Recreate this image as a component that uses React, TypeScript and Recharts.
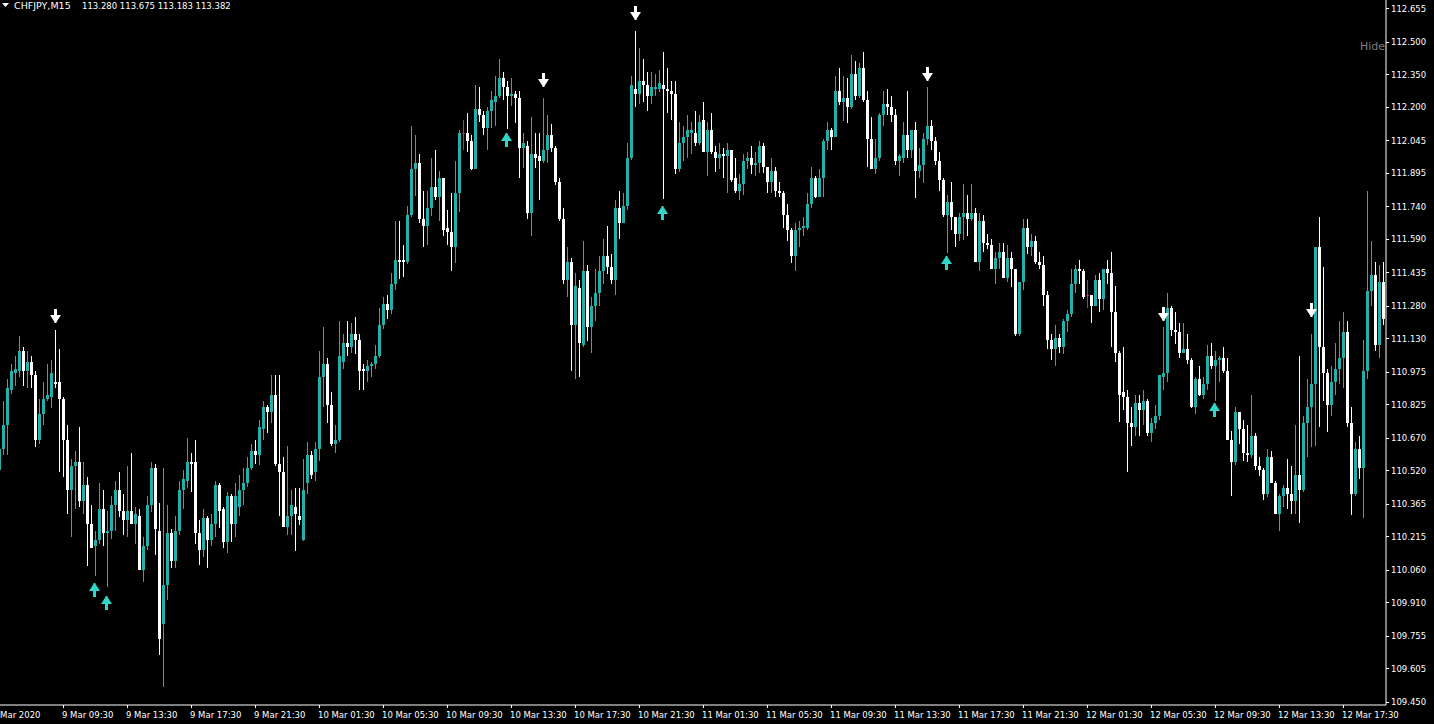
import { ComposedChart, Bar, Scatter, XAxis, YAxis } from "recharts";

// M15 candles, 9 Mar 05:45 -> 12 Mar 20:15
const openP = [
  110.52, 110.62, 110.73, 110.89, 110.97, 110.98, 111.07, 110.98, 111.02, 110.96,
  110.66, 110.78, 110.85, 110.86, 110.93, 110.93, 110.85, 110.66, 110.43, 110.54,
  110.56, 110.38, 110.45, 110.27, 110.17, 110.2, 110.34, 110.23, 110.24, 110.36,
  110.43, 110.33, 110.29, 110.33, 110.27, 110.31, 110.06, 110.17, 110.36, 110.53,
  110.24, 109.81, 109.99, 110.23, 110.1, 110.24, 110.43, 110.47, 110.56, 110.56,
  110.23, 110.15, 110.3, 110.2, 110.27, 110.45, 110.34, 110.19, 110.4, 110.27,
  110.35, 110.43, 110.46, 110.53, 110.61, 110.59, 110.71, 110.81, 110.79, 110.87,
  110.55, 110.51, 110.26, 110.31, 110.35, 110.31, 110.2, 110.46, 110.59, 110.51,
  110.62, 110.95, 111.01, 110.82, 110.64, 110.66, 111.02, 111.11, 111.09, 111.15,
  111.12, 110.99, 110.98, 111.0, 111.01, 111.05, 111.19, 111.29, 111.26, 111.38,
  111.49, 111.49, 111.48, 111.7, 111.91, 111.94, 111.68, 111.65, 111.73, 111.83,
  111.78, 111.87, 111.64, 111.62, 111.55, 111.8, 112.08, 112.08, 112.04, 111.91,
  112.19, 112.16, 112.1, 112.18, 112.22, 112.25, 112.33, 112.29, 112.25, 112.26,
  112.24, 112.01, 112.02, 111.71, 111.98, 111.97, 111.95, 112.0, 112.07, 112.01,
  111.85, 111.68, 111.4, 111.48, 111.19, 111.36, 111.1, 111.44, 111.18, 111.28,
  111.34, 111.44, 111.51, 111.46, 111.4, 111.73, 111.66, 111.74, 111.96, 112.28,
  112.26, 112.32, 112.3, 112.25, 112.28, 112.28, 112.3, 112.28, 112.27, 112.26,
  111.91, 112.03, 112.06, 112.08, 112.08, 112.03, 112.14, 111.99, 112.09, 111.99,
  111.96, 111.98, 111.97, 112.0, 111.87, 111.81, 111.84, 111.95, 111.96, 111.93,
  111.94, 112.02, 111.92, 111.85, 111.9, 111.81, 111.8, 111.7, 111.63, 111.51,
  111.63, 111.64, 111.64, 111.75, 111.87, 111.78, 111.87, 112.04, 112.09, 112.06,
  112.27, 112.22, 112.24, 112.2, 112.35, 112.25, 112.38, 112.23, 112.05, 111.91,
  111.96, 112.16, 112.21, 112.2, 112.16, 111.95, 111.96, 112.07, 112.0, 112.09,
  111.9, 111.93, 112.05, 112.11, 112.04, 111.95, 111.86, 111.7, 111.76, 111.69,
  111.61, 111.69, 111.71, 111.68, 111.71, 111.48, 111.67, 111.57, 111.56, 111.45,
  111.5, 111.53, 111.41, 111.5, 111.45, 111.15, 111.39, 111.64, 111.55, 111.58,
  111.48, 111.47, 111.33, 111.12, 111.08, 111.13, 111.09, 111.21, 111.24, 111.38,
  111.45, 111.44, 111.33, 111.33, 111.28, 111.4, 111.31, 111.45, 111.43, 111.25,
  111.06, 110.88, 110.86, 110.74, 110.72, 110.83, 110.8, 110.84, 110.69, 110.74,
  110.77, 110.95, 110.97, 111.27, 111.17, 111.16, 111.06, 111.08, 111.03, 110.81,
  110.94, 110.87, 110.92, 111.05, 111.0, 111.03, 111.04, 110.98, 110.66, 110.56,
  110.79, 110.71, 110.6, 110.59, 110.68, 110.54, 110.52, 110.41, 110.58, 110.46,
  110.32, 110.4, 110.44, 110.41, 110.38, 110.5, 110.43, 110.74, 110.81, 110.92,
  111.55, 111.09, 110.97, 110.82, 110.93, 110.99, 111.04, 111.16, 110.74, 110.41,
  110.62, 110.53, 110.98, 111.35, 111.42, 111.1, 111.39,
];
const highP = [
  110.66, 110.84, 110.94, 111.01, 111.05, 111.14, 111.09, 111.07, 111.05, 110.98,
  110.85, 110.93, 111.01, 111.03, 111.17, 111.08, 110.86, 110.73, 110.57, 110.61,
  110.72, 110.56, 110.49, 110.36, 110.24, 110.46, 110.43, 110.33, 110.4, 110.47,
  110.51, 110.41, 110.54, 110.6, 110.35, 110.34, 110.21, 110.4, 110.56, 110.55,
  110.37, 110.53, 110.36, 110.25, 110.31, 110.47, 110.52, 110.67, 110.6, 110.66,
  110.29, 110.34, 110.31, 110.32, 110.47, 110.46, 110.35, 110.42, 110.41, 110.46,
  110.5, 110.53, 110.58, 110.64, 110.66, 110.75, 110.84, 110.82, 110.96, 110.96,
  110.96, 110.58, 110.63, 110.43, 110.44, 110.44, 110.57, 110.65, 110.61, 110.65,
  111.07, 111.18, 111.04, 110.88, 110.73, 111.21, 111.15, 111.21, 111.2, 111.23,
  111.15, 111.01, 111.03, 111.02, 111.1, 111.27, 111.32, 111.33, 111.43, 111.67,
  111.67, 111.56, 111.74, 112.11, 112.07, 111.98, 111.81, 111.81, 111.96, 112.0,
  111.9, 111.87, 111.72, 111.8, 111.95, 112.09, 112.14, 112.17, 112.07, 112.3,
  112.29, 112.18, 112.2, 112.27, 112.34, 112.42, 112.36, 112.32, 112.33, 112.27,
  112.27, 112.08, 112.04, 112.15, 112.08, 112.08, 112.24, 112.16, 112.12, 112.02,
  111.87, 111.73, 111.55, 111.5, 111.43, 111.4, 111.58, 111.47, 111.32, 111.45,
  111.51, 111.59, 111.65, 111.52, 111.77, 111.81, 111.8, 112.03, 112.34, 112.55,
  112.47, 112.42, 112.36, 112.36, 112.35, 112.37, 112.45, 112.38, 112.32, 112.32,
  112.13, 112.11, 112.16, 112.13, 112.18, 112.16, 112.22, 112.13, 112.17, 112.02,
  112.03, 112.01, 112.03, 112.0, 111.96, 111.89, 111.98, 111.99, 112.02, 111.99,
  112.04, 112.03, 111.92, 111.96, 111.92, 111.85, 111.81, 111.75, 111.64, 111.66,
  111.67, 111.69, 111.8, 111.92, 111.88, 111.91, 112.05, 112.13, 112.1, 112.34,
  112.38, 112.34, 112.33, 112.44, 112.41, 112.4, 112.45, 112.27, 112.15, 112.05,
  112.17, 112.27, 112.28, 112.25, 112.19, 111.98, 112.13, 112.27, 112.09, 112.13,
  112.01, 112.08, 112.29, 112.14, 112.06, 111.99, 111.87, 111.79, 111.85, 111.69,
  111.71, 111.84, 111.79, 111.84, 111.73, 111.71, 111.7, 111.61, 111.59, 111.53,
  111.57, 111.57, 111.56, 111.53, 111.45, 111.39, 111.68, 111.68, 111.61, 111.6,
  111.53, 111.51, 111.35, 111.15, 111.19, 111.15, 111.22, 111.26, 111.45, 111.47,
  111.49, 111.45, 111.4, 111.33, 111.42, 111.43, 111.45, 111.49, 111.53, 111.37,
  111.07, 111.09, 110.89, 110.81, 110.87, 110.87, 110.89, 110.85, 110.76, 110.82,
  110.96, 111.18, 111.34, 111.28, 111.25, 111.2, 111.2, 111.15, 111.04, 110.95,
  111.0, 110.95, 111.1, 111.11, 111.07, 111.05, 111.09, 111.04, 110.7, 110.81,
  110.79, 110.75, 110.73, 110.87, 110.69, 110.58, 110.53, 110.62, 110.61, 110.47,
  110.41, 110.45, 110.57, 110.54, 110.73, 111.05, 110.77, 110.94, 111.15, 111.55,
  111.69, 111.46, 110.99, 111.0, 111.11, 111.21, 111.25, 111.21, 110.81, 110.65,
  110.68, 111.12, 111.81, 111.58, 111.48, 111.47, 111.48,
];
const lowP = [
  110.5, 110.59, 110.59, 110.87, 110.91, 110.95, 110.91, 110.9, 110.9, 110.63,
  110.64, 110.73, 110.84, 110.81, 110.9, 110.51, 110.49, 110.32, 110.21, 110.34,
  110.35, 110.32, 110.08, 110.16, 110.03, 110.18, 110.17, 109.98, 110.2, 110.24,
  110.3, 110.22, 110.21, 110.27, 110.18, 110.06, 110.0, 110.15, 110.33, 110.13,
  109.67, 109.52, 109.92, 110.07, 110.07, 110.22, 110.34, 110.44, 110.42, 110.18,
  110.08, 110.12, 110.07, 110.17, 110.21, 110.25, 110.16, 110.14, 110.19, 110.21,
  110.31, 110.36, 110.44, 110.52, 110.55, 110.54, 110.66, 110.69, 110.74, 110.54,
  110.31, 110.26, 110.22, 110.22, 110.15, 110.27, 110.19, 110.41, 110.48, 110.47,
  110.56, 110.81, 110.74, 110.63, 110.6, 110.65, 110.99, 111.05, 111.06, 111.06,
  110.89, 110.89, 110.93, 110.95, 110.99, 111.04, 111.17, 111.22, 111.24, 111.35,
  111.4, 111.41, 111.47, 111.69, 111.79, 111.66, 111.55, 111.56, 111.69, 111.77,
  111.67, 111.6, 111.56, 111.44, 111.48, 111.71, 112.0, 111.99, 111.91, 111.91,
  112.13, 112.07, 112.0, 112.1, 112.11, 112.24, 112.23, 112.1, 112.2, 112.12,
  111.87, 111.92, 111.68, 111.6, 111.92, 111.77, 111.94, 111.94, 111.99, 111.84,
  111.67, 111.38, 111.32, 110.98, 110.94, 110.95, 111.09, 111.12, 111.06, 111.21,
  111.28, 111.38, 111.43, 111.38, 111.33, 111.59, 111.66, 111.72, 111.95, 112.2,
  112.21, 112.22, 112.18, 112.21, 112.25, 112.27, 111.77, 112.17, 112.14, 111.89,
  111.9, 111.95, 111.96, 111.98, 112.02, 112.02, 111.99, 111.88, 111.98, 111.9,
  111.91, 111.87, 111.8, 111.85, 111.8, 111.77, 111.79, 111.91, 111.89, 111.88,
  111.89, 111.89, 111.8, 111.8, 111.78, 111.78, 111.64, 111.58, 111.48, 111.44,
  111.55, 111.6, 111.63, 111.73, 111.78, 111.78, 111.78, 112.0, 112.0, 112.06,
  112.21, 112.13, 112.12, 112.19, 112.23, 112.24, 112.22, 111.92, 111.91, 111.89,
  111.95, 112.11, 112.16, 112.13, 111.93, 111.88, 111.94, 111.96, 111.96, 111.78,
  111.87, 111.85, 112.02, 112.0, 111.93, 111.81, 111.69, 111.52, 111.63, 111.55,
  111.58, 111.58, 111.6, 111.67, 111.48, 111.44, 111.53, 111.54, 111.45, 111.38,
  111.45, 111.41, 111.39, 111.37, 111.14, 111.14, 111.35, 111.52, 111.51, 111.47,
  111.45, 111.28, 111.08, 111.03, 111.0, 111.06, 111.06, 111.16, 111.23, 111.34,
  111.38, 111.31, 111.27, 111.2, 111.28, 111.25, 111.26, 111.38, 111.09, 111.02,
  110.74, 110.8, 110.51, 110.63, 110.68, 110.68, 110.73, 110.68, 110.65, 110.71,
  110.75, 110.89, 110.93, 111.14, 111.1, 111.04, 111.06, 111.01, 110.81, 110.78,
  110.86, 110.85, 110.89, 110.99, 110.84, 110.93, 110.97, 110.66, 110.4, 110.54,
  110.64, 110.56, 110.56, 110.58, 110.52, 110.49, 110.38, 110.4, 110.46, 110.32,
  110.24, 110.35, 110.34, 110.32, 110.32, 110.28, 110.42, 110.58, 110.63, 110.63,
  110.72, 110.84, 110.7, 110.77, 110.87, 110.92, 110.9, 110.72, 110.31, 110.4,
  110.48, 110.3, 110.94, 111.28, 111.07, 111.04, 111.19,
];
const closeP = [
  110.62, 110.73, 110.9, 110.98, 110.99, 111.07, 110.98, 111.02, 110.96, 110.66,
  110.78, 110.85, 110.87, 110.97, 110.92, 110.85, 110.66, 110.43, 110.54, 110.56,
  110.38, 110.45, 110.27, 110.16, 110.2, 110.34, 110.23, 110.24, 110.36, 110.43,
  110.33, 110.29, 110.33, 110.27, 110.32, 110.06, 110.17, 110.36, 110.53, 110.25,
  109.74, 109.99, 110.23, 110.1, 110.24, 110.43, 110.48, 110.56, 110.55, 110.23,
  110.15, 110.3, 110.2, 110.27, 110.45, 110.33, 110.19, 110.4, 110.27, 110.4,
  110.43, 110.46, 110.53, 110.61, 110.59, 110.72, 110.81, 110.79, 110.87, 110.55,
  110.51, 110.26, 110.31, 110.36, 110.32, 110.29, 110.43, 110.59, 110.5, 110.62,
  110.95, 111.01, 110.82, 110.64, 110.66, 111.05, 111.11, 111.09, 111.15, 111.12,
  110.98, 110.98, 111.0, 111.01, 111.05, 111.19, 111.29, 111.26, 111.38, 111.49,
  111.48, 111.48, 111.7, 111.91, 111.94, 111.68, 111.65, 111.73, 111.83, 111.78,
  111.87, 111.63, 111.62, 111.55, 111.8, 112.08, 112.08, 112.04, 111.91, 112.19,
  112.16, 112.1, 112.18, 112.23, 112.25, 112.33, 112.29, 112.25, 112.26, 112.24,
  112.01, 112.03, 111.71, 111.98, 111.96, 111.95, 112.0, 112.07, 112.01, 111.85,
  111.68, 111.4, 111.48, 111.19, 111.37, 111.11, 111.44, 111.18, 111.28, 111.34,
  111.44, 111.51, 111.46, 111.4, 111.73, 111.66, 111.74, 111.96, 112.3, 112.26,
  112.32, 112.3, 112.25, 112.29, 112.29, 112.31, 112.28, 112.27, 112.26, 111.91,
  112.03, 112.06, 112.09, 112.09, 112.03, 112.13, 111.99, 112.09, 111.99, 111.96,
  111.98, 111.97, 112.0, 111.86, 111.81, 111.84, 111.95, 111.96, 111.93, 111.94,
  112.02, 111.92, 111.85, 111.9, 111.81, 111.8, 111.7, 111.63, 111.51, 111.63,
  111.64, 111.65, 111.75, 111.87, 111.78, 111.87, 112.04, 112.09, 112.06, 112.27,
  112.22, 112.24, 112.2, 112.35, 112.25, 112.38, 112.23, 112.05, 111.91, 111.96,
  112.16, 112.21, 112.2, 112.16, 111.95, 111.97, 112.07, 112.0, 112.09, 111.9,
  111.93, 112.05, 112.11, 112.04, 111.95, 111.86, 111.7, 111.76, 111.69, 111.61,
  111.69, 111.71, 111.68, 111.71, 111.48, 111.67, 111.57, 111.56, 111.45, 111.5,
  111.53, 111.41, 111.5, 111.45, 111.15, 111.39, 111.64, 111.55, 111.58, 111.48,
  111.47, 111.33, 111.12, 111.08, 111.13, 111.09, 111.21, 111.24, 111.38, 111.45,
  111.44, 111.32, 111.33, 111.28, 111.4, 111.31, 111.45, 111.43, 111.25, 111.06,
  110.87, 110.86, 110.74, 110.72, 110.83, 110.8, 110.84, 110.69, 110.74, 110.77,
  110.96, 110.97, 111.27, 111.17, 111.16, 111.06, 111.08, 111.03, 110.81, 110.94,
  110.87, 110.92, 111.05, 111.0, 111.03, 111.04, 110.98, 110.66, 110.56, 110.79,
  110.71, 110.6, 110.59, 110.68, 110.54, 110.52, 110.41, 110.58, 110.46, 110.32,
  110.4, 110.44, 110.41, 110.38, 110.5, 110.43, 110.74, 110.81, 110.92, 111.55,
  111.09, 110.97, 110.82, 110.93, 110.99, 111.04, 111.16, 110.74, 110.41, 110.62,
  110.53, 110.98, 111.35, 111.42, 111.1, 111.39, 111.22,
];

const timeTickIdx = [0, 16, 32, 48, 64, 80, 96, 112, 128, 144, 160, 176, 192, 208, 224, 240, 256, 272, 288, 304, 320, 336];
const timeLabels = [
  "9 Mar 2020", "9 Mar 09:30", "9 Mar 13:30", "9 Mar 17:30", "9 Mar 21:30",
  "10 Mar 01:30", "10 Mar 05:30", "10 Mar 09:30", "10 Mar 13:30", "10 Mar 17:30",
  "10 Mar 21:30", "11 Mar 01:30", "11 Mar 05:30", "11 Mar 09:30", "11 Mar 13:30",
  "11 Mar 17:30", "11 Mar 21:30", "12 Mar 01:30", "12 Mar 05:30", "12 Mar 09:30",
  "12 Mar 13:30", "12 Mar 17:30",
];
const priceTicks = [
  112.655, 112.5, 112.35, 112.2, 112.045, 111.895, 111.74, 111.59, 111.435, 111.28,
  111.13, 110.975, 110.825, 110.67, 110.52, 110.365, 110.215, 110.06, 109.91,
  109.755, 109.605, 109.45,
];
const headerSymbol = "CHFJPY,M15";
const headerOHLC = "113.280 113.675 113.183 113.382";

// signal arrows: bar index + price at the arrow tip
const upArrowIdx = [24, 27, 127, 166, 237, 304];
const upArrowPrice = [110.0, 109.94, 112.08, 111.74, 111.51, 110.83];
const downArrowIdx = [14, 136, 159, 232, 291, 328];
const downArrowPrice = [111.2, 112.29, 112.6, 112.32, 111.21, 111.23];

const BULL = "#20b2aa";
const BEAR = "#ffffff";
const DOJI = "#b0307f";
const UP_ARROW = "#2fd6c9";
const FONT = "'DejaVu Sans', sans-serif";

const W = 1434;
const H = 724;
const PLOT_R = 1386;
const PLOT_B = 705;

const bars = openP.map((o, i) => ({
  i,
  o,
  h: highP[i],
  l: lowP[i],
  c: closeP[i],
  range: [lowP[i], highP[i]],
}));
const upArrows = upArrowIdx.map((i, k) => ({ i, p: upArrowPrice[k] }));
const downArrows = downArrowIdx.map((i, k) => ({ i, p: downArrowPrice[k] }));

function Candle(props: any) {
  const { x, y, width, height, payload } = props;
  if (x == null || y == null || !payload) return null;
  const { o, h, l, c } = payload;
  const top = Math.min(y, y + height);
  const span = Math.abs(height);
  const py = (v: number) => (h === l ? top : top + ((h - v) / (h - l)) * span);
  const col = Math.round(x + width / 2 - 0.5);
  const color = c > o ? BULL : c < o ? BEAR : DOJI;
  const yTop = Math.round(py(Math.max(o, c)));
  const yBot = Math.round(py(Math.min(o, c)));
  return (
    <g shapeRendering="crispEdges">
      <rect x={col} y={Math.round(top)} width={1} height={Math.max(Math.round(span), 1)} fill={color} />
      <rect x={col - 1} y={yTop} width={3} height={Math.max(yBot - yTop, 1)} fill={color} />
    </g>
  );
}

function DownArrow(props: any) {
  const { cx, cy } = props;
  if (cx == null || cy == null) return null;
  const x = Math.round(cx - 0.5) + 0.5;
  const t = Math.round(cy);
  const pts = [
    [-1.5, -14], [1.5, -14], [1.5, -8], [5.5, -8], [1, -1], [1, 0],
    [-1, 0], [-1, -1], [-5.5, -8], [-1.5, -8],
  ];
  return <polygon points={pts.map(([a, b]) => `${x + a},${t + b}`).join(" ")} fill="#ffffff" />;
}

function UpArrow(props: any) {
  const { cx, cy } = props;
  if (cx == null || cy == null) return null;
  const x = Math.round(cx - 0.5) - 0.5;
  const t = Math.round(cy);
  const pts = [
    [-1.5, 14], [1.5, 14], [1.5, 8], [5.5, 8], [1, 1], [1, 0],
    [-1, 0], [-1, 1], [-5.5, 8], [-1.5, 8],
  ];
  return <polygon points={pts.map(([a, b]) => `${x + a},${t + b}`).join(" ")} fill={UP_ARROW} />;
}

function TimeTick(props: any) {
  const { x, payload } = props;
  const k = timeTickIdx.indexOf(payload.value);
  if (k < 0) return null;
  const dx = k === 0 ? -7.5 : -1.5;
  return (
    <g>
      {k > 0 && (
        <rect x={Math.round(x - 0.5)} y={PLOT_B} width={1} height={3} fill="#ffffff" shapeRendering="crispEdges" />
      )}
      <text x={x + dx} y={718} fill="#ffffff" fontSize={8.5} fontFamily={FONT}>
        {timeLabels[k]}
      </text>
    </g>
  );
}

function PriceTick(props: any) {
  const { y, payload } = props;
  return (
    <g>
      <rect x={PLOT_R} y={Math.round(y)} width={3} height={1} fill="#ffffff" shapeRendering="crispEdges" />
      <text x={1391} y={y + 3.5} fill="#ffffff" fontSize={8.5} fontFamily={FONT}>
        {payload.value.toFixed(3)}
      </text>
    </g>
  );
}

export default function App() {
  return (
    <div
      style={{
        position: "fixed",
        left: 0,
        top: 0,
        width: W,
        height: H,
        background: "#000000",
        overflow: "hidden",
      }}
    >
      <ComposedChart
        width={W}
        height={H}
        data={bars}
        margin={{ top: 0, right: 0, bottom: 0, left: 0 }}
        barSize={3}
      >
        <XAxis
          dataKey="i"
          type="number"
          domain={[0.125, 346.625]}
          allowDataOverflow
          ticks={timeTickIdx}
          interval={0}
          height={H - PLOT_B}
          tick={<TimeTick />}
          tickLine={false}
          axisLine={{ stroke: "#ffffff" }}
        />
        <YAxis
          orientation="right"
          type="number"
          domain={[109.436, 112.692]}
          allowDataOverflow
          ticks={priceTicks}
          interval={0}
          width={W - PLOT_R}
          tick={<PriceTick />}
          tickLine={false}
          axisLine={{ stroke: "#ffffff" }}
        />
        <Bar dataKey="range" shape={<Candle />} isAnimationActive={false} />
        <Scatter data={upArrows} dataKey="p" shape={<UpArrow />} isAnimationActive={false} />
        <Scatter data={downArrows} dataKey="p" shape={<DownArrow />} isAnimationActive={false} />
      </ComposedChart>
      <svg
        width={W}
        height={30}
        style={{ position: "absolute", left: 0, top: 0, pointerEvents: "none" }}
      >
        <polygon points="2,3 9,3 5.5,7" fill="#ffffff" />
        <text x={14} y={9} fill="#ffffff" fontSize={9.5} fontFamily={FONT}>
          {headerSymbol}
        </text>
        <text x={82} y={9} fill="#ffffff" fontSize={8.5} fontFamily={FONT}>
          {headerOHLC}
        </text>
      </svg>
      <div
        style={{
          position: "absolute",
          left: 1360,
          top: 40,
          color: "#7f7f7f",
          fontFamily: FONT,
          fontSize: 11,
        }}
      >
        Hide
      </div>
    </div>
  );
}
